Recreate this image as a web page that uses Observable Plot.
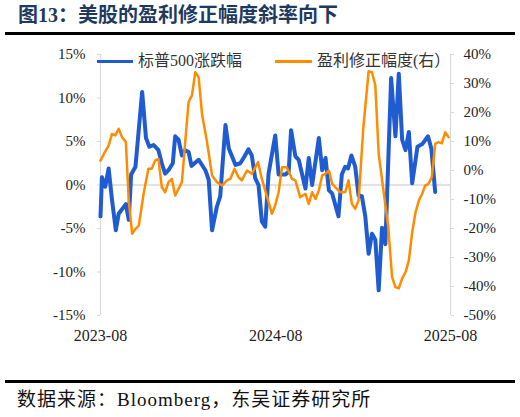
<!DOCTYPE html>
<html><head><meta charset="utf-8">
<script src="https://cdn.jsdelivr.net/npm/d3@7"></script>
<script src="https://cdn.jsdelivr.net/npm/@observablehq/plot@0.6"></script>
<style>
body{margin:0;background:#fff;}
#wrap{position:relative;width:520px;height:417px;overflow:hidden;}
.title{position:absolute;left:18px;top:2px;font-weight:bold;font-size:20px;font-family:'Liberation Serif','Noto Sans CJK SC',serif;color:#1f3a5f;white-space:nowrap;line-height:26px;}
.hr{position:absolute;left:5px;width:510px;background:#000;}
.caption{position:absolute;left:17px;top:388px;font-size:19px;letter-spacing:1px;font-family:'Liberation Serif','Noto Sans CJK SC',serif;color:#111;white-space:nowrap;line-height:24px;}
.leg{position:absolute;font-size:16px;font-family:'Liberation Serif','Noto Sans CJK SC',serif;color:#333;white-space:nowrap;line-height:20px;}
.sw{position:absolute;height:3px;}
#chart{position:absolute;left:0;top:0;}
</style>
</head>
<body>
<div id="wrap">
  <div class="title">图13：美股的盈利修正幅度斜率向下</div>
  <div class="hr" style="top:32px;height:2.5px"></div>
  <div id="chart"></div>
  <div class="sw" style="left:97px;top:60px;width:36px;background:#1f5bd1"></div>
  <div class="leg" style="left:138px;top:51px">标普500涨跌幅</div>
  <div class="sw" style="left:275px;top:60px;width:37px;height:2.5px;background:#ff8c00"></div>
  <div class="leg" style="left:317px;top:51px">盈利修正幅度(右）</div>
  <div class="hr" style="top:380px;height:2.5px"></div>
  <div class="caption">数据来源：Bloomberg，东吴证券研究所</div>
</div>
<script>
const spxDates = ["2023-08-01","2023-08-04","2023-08-11","2023-08-18","2023-08-25","2023-09-02","2023-09-08","2023-09-23","2023-09-29","2023-10-04","2023-10-13","2023-10-27","2023-11-04","2023-11-11","2023-11-20","2023-11-30","2023-12-07","2023-12-14","2023-12-21","2023-12-30","2024-01-04","2024-01-11","2024-01-18","2024-01-25","2024-02-01","2024-02-07","2024-02-22","2024-03-07","2024-03-14","2024-03-21","2024-03-31","2024-04-07","2024-04-18","2024-04-25","2024-05-09","2024-05-19","2024-05-28","2024-06-05","2024-06-12","2024-06-19","2024-06-26","2024-07-03","2024-07-10","2024-07-17","2024-07-31","2024-08-07","2024-08-21","2024-08-28","2024-09-02","2024-09-11","2024-09-18","2024-10-02","2024-10-09","2024-10-16","2024-10-30","2024-11-06","2024-11-13","2024-11-20","2024-11-27","2024-12-10","2024-12-17","2024-12-24","2024-12-30","2025-01-06","2025-01-14","2025-01-21","2025-01-28","2025-02-04","2025-02-11","2025-02-18","2025-02-25","2025-03-04","2025-03-11","2025-03-18","2025-03-30","2025-04-08","2025-04-15","2025-04-22","2025-04-29","2025-05-06","2025-05-13","2025-05-24","2025-06-03","2025-06-15","2025-06-22","2025-06-30"];
const spxValues = [-3.6,0.9,-0.2,1.9,-1.7,-5.2,-3.3,-2.2,-4.0,1.2,2.1,10.7,5.4,4.4,4.6,4.0,2.5,1.3,1.7,2.5,5.6,5.2,3.4,4.0,3.8,2.2,2.9,1.7,0.6,-5.2,-2.5,-1.3,6.9,4.2,2.3,2.5,3.3,4.1,3.4,0.8,0.0,-4.2,-4.8,1.3,5.7,1.2,1.2,1.5,6.3,3.3,2.9,-0.4,3.1,0.0,5.4,1.7,3.1,-0.6,-1.0,-3.6,1.2,2.1,1.9,3.4,2.1,-1.2,-1.3,-3.6,-7.9,-5.6,-6.3,-12.1,-4.9,-6.8,12.3,5.6,12.8,5.2,4.0,6.1,0.2,4.4,4.7,5.6,4.2,-0.8];

const revDates = ["2023-08-01","2023-08-08","2023-08-18","2023-08-25","2023-09-01","2023-09-08","2023-09-15","2023-09-23","2023-09-29","2023-10-06","2023-10-13","2023-10-20","2023-10-30","2023-11-09","2023-11-16","2023-11-23","2023-11-30","2023-12-07","2023-12-14","2023-12-21","2023-12-28","2024-01-04","2024-01-18","2024-01-25","2024-02-01","2024-02-08","2024-02-15","2024-02-22","2024-02-29","2024-03-10","2024-03-21","2024-03-31","2024-04-11","2024-04-21","2024-04-28","2024-05-07","2024-05-15","2024-05-22","2024-06-02","2024-06-12","2024-06-25","2024-07-03","2024-07-24","2024-07-31","2024-08-07","2024-08-14","2024-08-24","2024-09-04","2024-09-11","2024-09-21","2024-10-02","2024-10-09","2024-10-16","2024-10-23","2024-10-30","2024-11-06","2024-11-13","2024-11-20","2024-11-27","2024-12-03","2024-12-14","2024-12-24","2024-12-31","2025-01-07","2025-01-14","2025-01-21","2025-01-31","2025-02-11","2025-02-18","2025-02-25","2025-03-04","2025-03-14","2025-03-24","2025-04-01","2025-04-08","2025-04-15","2025-04-22","2025-04-29","2025-05-06","2025-05-13","2025-05-20","2025-05-27","2025-06-03","2025-06-09","2025-06-16","2025-06-23","2025-06-30","2025-07-07","2025-07-14","2025-07-21","2025-07-28"];
const revValues = [3.4,5.7,8.6,12.6,12.1,14.4,11.5,9.8,-10.3,-21.8,-20.1,-19.0,-8.0,0.6,0.6,3.4,4.0,-5.7,-7.5,-4.0,-2.9,-8.6,-4.0,10.0,23.6,25.9,33.9,32.2,19.5,10.3,-1.7,-4.0,-5.2,-3.4,-2.9,0.6,-2.3,-3.4,0.0,-1.1,2.9,-2.9,-14.9,-12.0,-7.5,1.1,1.1,-2.9,-3.4,-9.2,-8.0,-11.5,-7.5,-9.8,-6.9,-1.7,-1.1,0.0,-4.6,-5.7,-7.5,-7.5,-3.4,-11.5,-13.2,-10.3,14.9,34.2,33.9,29.3,5.7,-6.9,-19.5,-36.8,-40.2,-40.6,-37.3,-35.1,-31.0,-21.3,-14.4,-10.3,-8.0,-5.2,-4.6,-2.3,9.2,9.8,9.4,13.2,11.5];

const leftTicks = [15,10,5,0,-5,-10,-15];
const rightTicks = [40,30,20,10,0,-10,-20,-30,-40,-50];
const xTickLabels = ["2023-08","2024-08","2025-08"];

const parse = d3.utcParse("%Y-%m-%d");
const spx = spxDates.map((d,i)=>({date:parse(d), v:spxValues[i]}));
const rev = revDates.map((d,i)=>({date:parse(d), v:revValues[i]}));
const xTicks = xTickLabels.map(s=>d3.utcParse("%Y-%m")(s));

// map right axis (-50..40) onto left axis (-15..15)
const toLeft = r => (r + 5) / 3;
const toRight = l => Math.round(l * 3 - 5);

const chart = Plot.plot({
  width: 520, height: 417,
  marginTop: 54, marginBottom: 102, marginLeft: 100, marginRight: 70,
  style: {fontFamily: "'Liberation Serif','Times New Roman',serif", fontSize: "15px", background: "transparent", color: "#222"},
  x: {type: "utc", domain: [xTicks[0], xTicks[2]]},
  y: {domain: [-15, 15]},
  marks: [
    Plot.ruleY([0], {stroke: "#d9d9d9", strokeWidth: 1.5}),
    Plot.ruleX([xTicks[0], xTicks[2]], {stroke: "#d9d9d9", strokeWidth: 1.2}),
    Plot.ruleX(xTicks, {y1: 0, y2: -0.45, stroke: "#d9d9d9", strokeWidth: 1.2}),
    Plot.axisY({anchor: "left", ticks: leftTicks, tickSize: 3, tickPadding: 12, stroke: "#d9d9d9", fill: "#222", tickFormat: d => d + "%", label: null}),
    Plot.axisY({anchor: "right", ticks: rightTicks.map(toLeft), tickSize: 3, tickPadding: 10, stroke: "#d9d9d9", fill: "#222", tickFormat: d => toRight(d) + "%", label: null}),
    Plot.axisX({anchor: "bottom", ticks: xTicks, tickSize: 0, tickPadding: 14, fontSize: 16, fill: "#222", tickFormat: d3.utcFormat("%Y-%m"), label: null}),
    Plot.line(spx, {x: "date", y: "v", stroke: "#1f5bd1", strokeWidth: 4, strokeLinejoin: "round"}),
    Plot.line(rev, {x: "date", y: d => toLeft(d.v), stroke: "#ff8c00", strokeWidth: 2.5, strokeLinejoin: "round"})
  ]
});
document.getElementById("chart").appendChild(chart);
</script>
</body></html>
